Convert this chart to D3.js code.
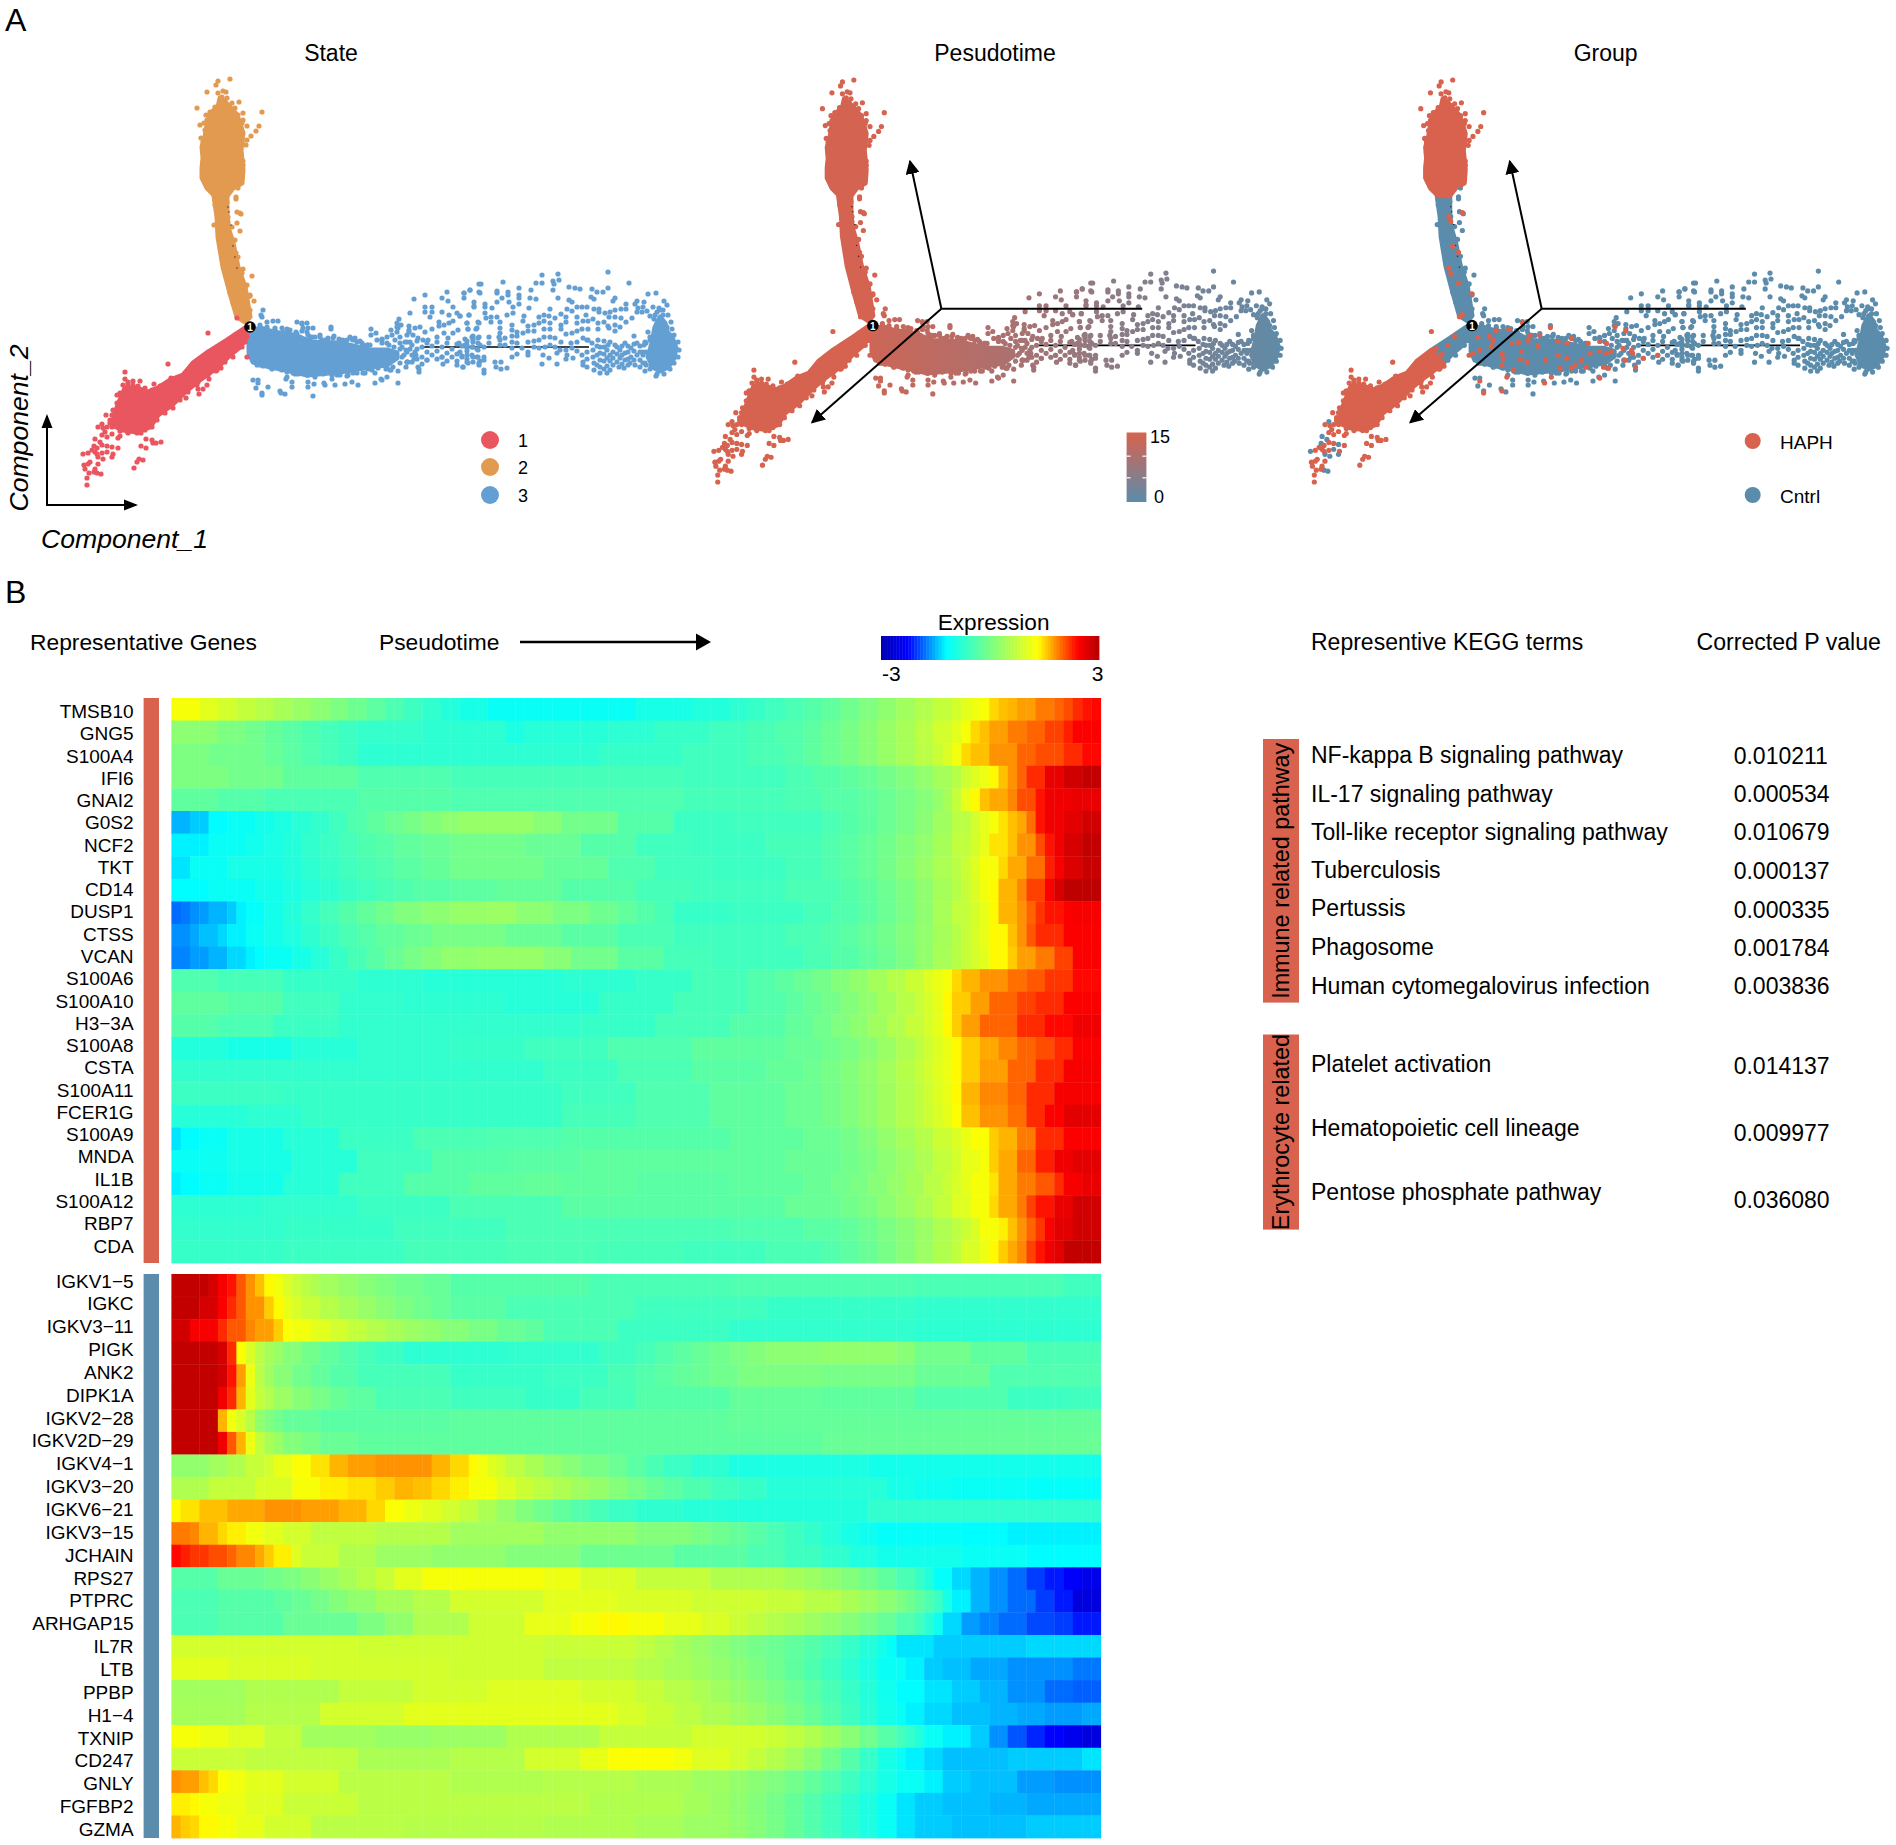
<!DOCTYPE html>
<html>
<head>
<meta charset="utf-8">
<title>Pseudotime trajectory and heatmap</title>
<script src="https://cdn.jsdelivr.net/npm/d3@7"></script>
<style>
  body { margin: 0; background: #fff; }
  text { font-family: "Liberation Sans", Arial, sans-serif; fill: #000; }
</style>
</head>
<body>
<svg id="chart"></svg>
<script>
// DATA

// trajectory: dense areas as outlines, loose cells as points, [component_1, component_2]
var state1Core = [[138,122],[125,112],[115,105],[103,95],[90,82],[76,72],[68,60],[55,55],[41,57],[30,62],[33,74],[38,87],[43,99],[55,99],[66,95],[76,99],[88,107],[101,112],[111,124],[126,135]];
var state1Near = [[126,135],[145,147],[163,159],[165,150],[158,140],[148,132],[138,122]];
var state2Core = [[138,389],[146,382],[155,372],[161,354],[159,337],[161,317],[160,304],[151,299],[145,291],[133,291],[125,299],[120,309],[120,319],[121,329],[120,340],[123,350],[125,362],[130,375],[136,380]];
var state2Stem = [[145,291],[145,274],[146,260],[151,244],[156,220],[163,200],[168,170],[163,165],[155,170],[148,194],[141,220],[136,250],[135,270],[132,291]];
var state3Band = [[167,155],[178,159],[191,155],[211,152],[231,145],[258,144],[288,137],[305,137],[315,134],[315,129],[305,122],[288,120],[258,115],[225,112],[205,117],[188,120],[171,125],[167,134]];
var state3Blob = [[578,170],[583,164],[585,155],[590,150],[594,139],[592,129],[586,120],[578,116],[571,120],[566,130],[570,144],[573,160]];

var state1Haph = [[43,115],[43,108],[51,106],[58,106],[46,103],[35,92],[72,103],[86,123],[126,154],[89,109],[93,108],[104,89],[117,93],[121,98],[125,102],[127,108],[115,102],[116,98],[134,116],[139,119],[165,130],[155,169],
  [24,72],[30,72],[16,60],[25,60],[28,64],[21,59],[23,55],[20,52],[25,50],[30,53],[38,51],[36,49],[46,54],[59,54],[64,48],[70,47],[74,44],[79,45],[71,44],[59,41],[64,39],[20,42],[15,39],[25,41],[36,39],[10,37],[13,35],[6,34],[15,33],[20,34],[31,33],[16,23],[8,25],[6,23],[2,22],[3,18],[7,14],[12,15],[13,18],[5,9],[5,2],[52,19],[55,25],[57,28],[61,27],
  [41,102],[46,105],[51,102],[56,101],[63,99],[70,97],[78,101],[83,102],[88,105],[98,109],[103,114],[108,117],[113,122],[120,127],[128,135],[38,94],[35,84],[31,77],[28,67],[30,60],[38,56],[46,55],[55,54],[63,57],[70,60],[75,67],[83,74],[91,79],[98,87],[106,95],[116,105],[126,112],[135,117],
  [150,149],[143,140],[137,131],[131,137]];
var state1Cntrl = [[20,63],[13,48],[18,45],[16,30],[30,40],[1,33],[21,28],[15,14],[19,13],[25,35],[30,30],[12,41],
  [136,140],[145,145],[153,152],[158,154],[143,125],[151,130],[160,140],[163,145]];

var state2Haph = [[148,408],[136,406],[134,402],[125,395],[141,396],[136,394],[144,395],[115,379],[157,385],[124,372],[127,368],[122,364],[118,362],[180,375],[177,361],[174,356],[165,361],[169,351],[165,347],[164,342],[161,374],[161,367],[119,349],[161,326],[121,317],
  [128,375],[133,380],[138,384],[143,385],[140,390],[145,389],[150,384],[153,379],[156,372],[160,364],[156,355],[160,345],[158,334],[161,322],[160,310],[156,302],[125,367],[123,357],[121,345],[121,335],[123,327],[121,319],[121,309],[125,302],[128,297],[133,294],
  [144,270],[146,265],[158,274],[154,234],[148,240],[144,218],[146,212],[154,203],[168,192],[158,171]];
var state2Cntrl = [[156,299],[154,290],[154,288],[155,275],[159,273],[132,262],[155,264],[158,256],[138,252],[170,211],[165,202],[168,191],[172,186],[161,218],
  [133,287],[133,282],[136,274],[136,262],[140,244],[141,230],[143,217],[146,204],[148,194],[151,184],[145,285],[146,270],[150,260],[153,247],[156,230],[160,214],[163,200],[166,190],[168,177]];

var state3Cntrl = [[181,177],[179,172],[180,170],[185,165],[191,166],[196,166],[215,165],[220,164],[225,164],[249,160],[226,159],[231,159],[200,159],[205,158],[193,157],[220,156],[225,155],[214,155],[238,152],[252,151],[257,148],[268,150],[273,149],[278,146],[245,147],[289,158],[294,154],[289,152],[285,142],[300,148],[305,150],[309,157],[315,160],[317,168],[315,164],[319,162],[327,161],[328,174],[332,188],[343,192],[343,180],[343,175],[350,180],[350,175],[348,170],[360,189],[365,195],[366,186],[371,180],[360,175],[367,172],[375,174],[378,171],[387,172],[382,194],[382,189],[388,197],[397,195],[397,203],[392,185],[392,180],[357,165],[362,162],[367,164],[371,166],[357,161],[385,164],[386,158],[395,159],[397,164],[327,157],[333,159],[338,160],[331,152],[336,149],[343,155],[350,158],[341,147],[346,147],[355,150],[362,154],[371,154],[376,157],[366,149],[377,144],[390,150],[391,145],[396,149],[385,142],
  [171,107],[176,107],[174,99],[180,94],[186,100],[198,96],[203,93],[231,91],[210,105],[210,100],[205,110],[226,112],[226,105],[232,103],[226,100],[242,104],[253,102],[263,103],[270,105],[265,111],[276,102],[293,104],[299,108],[305,110],[316,104],[293,114],[308,117],[316,116],[324,120],[336,120],[337,115],[361,123],[375,122],[381,120],[386,124],[391,125],[397,122],
  [178,122],[190,119],[200,117],[213,113],[233,112],[243,114],[255,112],[271,114],[283,114],[205,153],[218,150],[230,150],[243,147],[261,147],[280,144],
  [178,162],[185,160],[193,159],[201,155],[208,157],[215,153],[221,159],[226,152],[233,150],[240,147],[246,149],[251,149],[258,147],[265,147],[270,148],[275,145],[281,142],[286,142],[295,147],[300,147],[305,144],[310,152],[315,155],[313,147],[318,150],[318,144],[325,152],[323,145],[328,145],
  [175,122],[181,121],[190,118],[198,118],[205,115],[211,114],[216,113],[225,112],[233,110],[241,113],[250,112],[258,112],[266,112],[275,114],[281,114],[290,117],[296,119],[305,119],[311,120],[318,124],[325,125],
  [300,128],[308,126],[312,140],[318,138],[322,132],[328,138],[332,128],
  [320,140],[320,130],[325,145],[325,135],[325,125],[330,142],[330,132],[330,125],[335,146],[335,138],[335,128],[340,140],[340,130],[340,123],[345,144],[345,135],[345,127],[350,141],[350,132],[355,145],[355,136],[355,128],[360,140],[360,130],[365,144],[365,134],[365,126],[370,138],[370,130],[375,143],[375,133],[375,126],[380,141],[380,131],[385,146],[385,136],[385,128],[390,140],[390,132],[395,138],[395,130],[398,142],[398,126],
  [460,212],[476,213],[526,215],[454,204],[460,204],[471,206],[477,207],[472,203],[399,203],[421,205],[547,204],[388,197],[382,194],[398,194],[415,196],[415,194],[426,195],[426,192],[437,199],[437,192],[437,189],[449,197],[471,197],[487,200],[493,199],[498,198],[510,198],[515,195],[521,195],[526,199],[566,193],[574,194],[420,189],[415,185],[427,185],[437,183],[448,189],[454,188],[476,189],[509,190],[512,188],[533,189],[531,186],[487,187],[490,185],[582,186],[585,182],[555,186],[562,185],[553,183],[392,181],[403,183],[403,180],[410,179],[431,180],[447,179],[468,178],[485,178],[490,176],[495,180],[500,180],[505,180],[512,178],[517,178],[517,175],[544,183],[539,178],[544,178],[533,177],[528,175],[523,174],[556,179],[561,180],[560,175],[565,176],[571,180],[577,179],[581,177],
  [403,174],[431,174],[425,172],[442,171],[387,172],[378,171],[404,169],[409,170],[415,170],[418,165],[462,172],[467,171],[473,169],[479,173],[484,170],[484,165],[495,170],[504,172],[501,166],[506,166],[511,168],[516,164],[522,165],[527,170],[533,170],[539,169],[544,165],[550,169],[555,175],[568,171],[573,172],[385,164],[396,165],[409,165],[441,166],[457,170],[457,164],[462,166],[468,164],[495,164],[526,161],[533,162],[538,160],
  [386,158],[394,158],[418,159],[430,162],[430,157],[446,161],[452,162],[446,156],[452,156],[462,158],[468,158],[479,162],[479,158],[495,156],[500,158],[506,158],[516,158],[527,159],[533,156],[441,154],[435,155],[418,154],[430,151],[435,151],[417,150],[407,150],[397,150],[391,151],[484,153],[490,154],[446,145],[452,146],[457,147],[462,150],[468,150],[473,149],[479,145],[489,144],[495,145],[501,149],[506,147],[516,147],[522,146],[552,151],[568,150],
  [383,148],[383,142],[391,147],[391,140],[385,139],[396,144],[396,137],[407,144],[402,140],[418,147],[418,142],[423,149],[423,142],[430,145],[430,139],[435,144],[440,139],[446,135],[452,140],[457,139],[463,140],[468,142],[473,140],[478,137],[484,137],[490,139],[495,136],[500,132],[378,135],[380,130],[385,132],[391,130],[385,125],[396,130],[402,130],[402,127],[397,124],[381,120],[402,117],[402,114],[413,125],[419,125],[414,120],[419,118],[425,119],[430,130],[435,133],[446,132],[460,123],[461,132],[467,129],[475,123],[475,134],[484,128],[491,129],[485,132],
  [501,122],[501,125],[505,128],[505,147],[510,144],[511,137],[511,130],[512,124],[512,117],[518,114],[518,120],[518,127],[518,134],[518,140],[525,114],[525,121],[525,129],[525,137],[526,142],[531,122],[531,129],[531,135],[533,142],[537,120],[538,129],[538,137],[542,119],[543,127],[543,134],[543,144],[548,124],[549,130],[549,139],[553,122],[555,132],[555,144],[563,116],[561,124],[561,132],[562,142],[568,147],[569,122],[567,130],[574,111],[578,177],[581,172],
  [505,135],[505,120],[515,122],[515,132],[515,141],[522,118],[522,126],[522,133],[522,140],[528,117],[528,126],[528,132],[528,145],[535,125],[535,133],[535,140],[540,123],[540,132],[540,141],[546,122],[546,128],[546,135],[546,141],[552,127],[552,136],[552,143],[558,120],[558,127],[558,135],[558,141],[564,122],[564,135],[564,144],
  [575,175],[572,168],[586,172],[589,165],[585,160],[590,158],[592,152],[596,145],[597,137],[596,130],[592,124],[588,118],[582,113],[575,113],[568,118],[563,124],[561,135],[563,145],[566,155]];

var state3Haph = [[249,158],[220,163],[206,156],[193,155],[174,148],[186,149],[190,145],[176,135],[169,132],[188,139],[199,132],[200,127],[209,142],[216,143],[219,134],[226,145],[228,150],[238,150],[236,139],[257,144],[271,147],[266,142],[288,142],[300,144],[307,142],[300,134],[307,132],[312,134],[316,159],[327,155],[324,137],[333,135],[334,132],[360,130],[345,127],[326,125],[337,118],[309,117],[304,118],[290,132],[286,118],[281,125],[275,120],[271,117],[266,127],[257,130],[259,117],[244,125],[225,123],[218,126],[211,115],[199,120],[204,108],[250,108],[243,102],[300,107],[176,104],[199,94],[180,92]];

// pseudotime read along component_1 on the third branch
var ptAtComponent = [168, 300, 400, 500, 600];
var ptValues = [13.5, 10, 6.8, 3.5, 0.5];
var ptOnBranch = { 1: 14.8, 2: 14.5 };

// arrows in the Pesudotime and Group panels
var arrowHub = [240, 177];
var arrowEnds = [[207, 326], [104, 62]];
var arrowLineEnd = [451, 177];

var nodePoint = [168, 160];
var trajectoryLine = [[341, 140], [507, 140]];
var trajectoryDots = [[146, 280], [147, 275], [149, 262], [151, 241], [153, 230], [155, 219]];

var stateLabels = ["1", "2", "3"];
var stateColors = ["#e9565f", "#e29a50", "#649fd3"];
var groupLabels = ["HAPH", "Cntrl"];
var groupColors = ["#d8624e", "#5b8cab"];
var ptTicks = [5, 10];

// heatmap, runs of [end column, expression]
var genesUp = ["TMSB10","GNG5","S100A4","IFI6","GNAI2","G0S2","NCF2","TKT","CD14","DUSP1","CTSS","VCAN","S100A6","S100A10","H3\u22123A","S100A8","CSTA","S100A11","FCER1G","S100A9","MNDA","IL1B","S100A12","RBP7","CDA"];
var genesDown = ["IGKV1\u22125","IGKC","IGKV3\u221211","PIGK","ANK2","DIPK1A","IGKV2\u221228","IGKV2D\u221229","IGKV4\u22121","IGKV3\u221220","IGKV6\u221221","IGKV3\u221215","JCHAIN","RPS27","PTPRC","ARHGAP15","IL7R","LTB","PPBP","H1\u22124","TXNIP","CD247","GNLY","FGFBP2","GZMA"];

var exprUp = [
 "3:1.2 5:1.0 7:0.85 9:0.7 11:0.58 13:0.42 15:0.28 17:0.14 19:0 21:-0.15 23:-0.32 25:-0.48 27:-0.62 29:-0.76 31:-0.88 34:-1.0 50:-1.15 56:-1.0 60:-0.9 62:-0.8 64:-0.7 66:-0.6 68:-0.5 70:-0.4 72:-0.28 74:-0.12 76:0.02 78:0.18 80:0.35 82:0.52 84:0.7 85:0.85 86:1.0 87:1.12 88:1.22 89:1.45 90:1.55 91:1.6 93:1.7 95:1.85 96:1.95 97:2.05 98:2.2 99:2.3 100:2.35",
 "5:0.15 8:0 10:-0.12 12:-0.24 14:-0.36 16:-0.46 18:-0.56 20:-0.64 27:-0.72 36:-0.8 38:-0.95 47:-0.85 52:-0.8 58:-0.7 62:-0.6 65:-0.52 68:-0.42 70:-0.32 72:-0.18 74:-0.04 76:0.1 78:0.26 80:0.42 82:0.62 84:0.84 85:1.0 86:1.2 87:1.45 88:1.55 90:1.7 92:1.85 94:1.95 96:2.1 97:2.25 100:2.4",
 "4:0 10:-0.1 12:-0.22 14:-0.34 16:-0.44 18:-0.54 20:-0.64 46:-0.8 55:-0.7 62:-0.6 66:-0.5 68:-0.42 70:-0.3 72:-0.18 74:-0.04 76:0.1 78:0.26 80:0.42 82:0.6 83:0.75 84:0.9 85:1.15 86:1.45 88:1.55 91:1.75 93:1.95 96:2.05 98:2.2 100:2.35",
 "6:0 12:-0.1 20:-0.3 30:-0.45 55:-0.55 66:-0.6 69:-0.5 72:-0.4 74:-0.3 76:-0.2 78:-0.08 80:0.04 82:0.2 84:0.4 85:0.56 86:0.8 87:0.96 88:1.1 89:1.3 90:1.55 91:1.75 92:1.95 94:2.2 96:2.55 98:2.75 100:2.85",
 "5:-0.3 10:-0.4 20:-0.5 30:-0.4 55:-0.45 66:-0.55 70:-0.48 74:-0.38 76:-0.28 78:-0.18 80:-0.05 82:0.08 83:0.22 84:0.4 85:0.7 86:1.05 87:1.3 88:1.55 90:1.65 91:1.8 93:2.05 94:2.3 97:2.5 100:2.55",
 "2:-1.55 4:-1.45 6:-1.25 9:-1.15 11:-1.05 13:-0.96 15:-0.84 17:-0.74 19:-0.6 21:-0.44 23:-0.3 25:-0.18 27:-0.06 29:0.06 31:0.16 39:0.25 42:0.1 48:-0.1 54:-0.4 60:-0.65 70:-0.6 72:-0.5 74:-0.4 76:-0.3 78:-0.18 80:-0.04 82:0.12 84:0.34 86:0.6 87:0.84 88:1.02 89:1.2 90:1.4 91:1.55 92:1.65 93:1.9 94:2.3 96:2.5 98:2.6 100:2.75",
 "4:-1.3 8:-1.15 10:-1.06 12:-0.98 14:-0.88 16:-0.76 18:-0.66 20:-0.56 22:-0.46 24:-0.38 27:-0.28 30:-0.2 38:-0.1 44:-0.2 50:-0.4 56:-0.6 64:-0.65 70:-0.55 72:-0.44 74:-0.34 76:-0.22 78:-0.1 80:0.04 82:0.2 84:0.4 86:0.66 87:0.86 88:1.05 90:1.4 91:1.55 93:1.75 94:2.05 95:2.3 96:2.5 98:2.7 100:2.85",
 "2:-1.35 6:-1.15 12:-1 14:-0.9 16:-0.8 18:-0.7 20:-0.6 22:-0.52 24:-0.44 27:-0.34 30:-0.24 40:-0.1 47:-0.25 52:-0.45 58:-0.6 66:-0.65 70:-0.55 72:-0.44 74:-0.34 76:-0.22 78:-0.08 80:0.08 82:0.26 84:0.46 85:0.6 86:0.76 87:0.95 89:1.2 90:1.45 92:1.65 94:1.9 95:2.25 96:2.45 98:2.65 100:2.8",
 "4:-1.25 9:-1.15 12:-1.04 14:-0.96 16:-0.86 18:-0.78 20:-0.68 22:-0.6 24:-0.52 26:-0.46 30:-0.38 35:-0.32 42:-0.25 50:-0.4 56:-0.55 66:-0.6 72:-0.5 74:-0.4 76:-0.3 78:-0.16 80:0 82:0.18 84:0.4 85:0.56 86:0.72 87:0.9 88:1.15 89:1.3 91:1.6 92:1.8 94:2.1 95:2.4 96:2.7 100:2.9",
 "1:-1.85 2:-1.8 3:-1.7 4:-1.65 6:-1.55 7:-1.45 8:-1.3 10:-1.2 12:-1.04 14:-0.88 16:-0.72 18:-0.56 20:-0.4 22:-0.26 24:-0.12 27:0.04 30:0.15 34:0.25 37:0.3 41:0.15 45:0 48:-0.14 50:-0.28 52:-0.4 54:-0.52 60:-0.7 68:-0.65 71:-0.54 74:-0.44 76:-0.32 78:-0.18 80:-0.02 82:0.18 84:0.42 86:0.68 87:0.86 88:1.05 89:1.3 91:1.6 92:1.75 93:1.95 94:2.15 96:2.3 97:2.4 100:2.45",
 "2:-1.7 3:-1.6 5:-1.5 6:-1.4 8:-1.3 10:-1.15 12:-1.04 14:-0.92 16:-0.78 18:-0.64 20:-0.5 22:-0.4 25:-0.28 28:-0.18 36:-0.05 42:-0.2 48:-0.35 54:-0.5 66:-0.6 70:-0.5 72:-0.42 74:-0.34 76:-0.22 78:-0.1 80:0.04 82:0.2 84:0.4 85:0.56 86:0.72 87:0.88 88:1.05 90:1.3 91:1.55 92:1.75 93:2.0 96:2.2 100:2.4",
 "2:-1.75 4:-1.65 6:-1.55 8:-1.4 9:-1.3 10:-1.25 13:-1.15 15:-1.0 17:-0.86 19:-0.7 21:-0.52 23:-0.36 25:-0.2 27:-0.06 29:0.06 33:0.2 40:0.25 43:0.1 48:-0.1 53:-0.35 58:-0.55 68:-0.6 71:-0.5 74:-0.4 76:-0.28 78:-0.16 80:0 82:0.2 84:0.42 85:0.56 86:0.72 87:0.86 88:1.0 90:1.3 91:1.5 93:1.7 95:1.85 97:2.1 100:2.4",
 "5:-0.45 12:-0.55 20:-0.7 27:-0.8 42:-0.85 50:-0.8 56:-0.7 62:-0.55 65:-0.42 67:-0.32 69:-0.2 71:-0.08 73:0.06 75:0.2 77:0.38 79:0.56 81:0.76 82:0.95 83:1.08 84:1.2 85:1.45 87:1.6 90:1.75 92:1.9 94:2.0 97:2.15 100:2.35",
 "6:-0.3 12:-0.4 18:-0.6 25:-0.75 36:-0.8 46:-0.85 54:-0.7 62:-0.55 66:-0.42 68:-0.32 70:-0.2 72:-0.08 74:0.06 76:0.2 78:0.38 80:0.58 81:0.74 82:0.88 83:1.04 84:1.3 86:1.5 88:1.7 91:1.95 93:2.1 96:2.2 100:2.4",
 "5:-0.4 11:-0.5 18:-0.65 30:-0.75 44:-0.75 52:-0.7 60:-0.55 66:-0.4 69:-0.26 71:-0.12 73:0.02 75:0.16 77:0.34 79:0.52 81:0.72 82:0.88 83:1.02 84:1.3 85:1.5 87:1.7 91:1.95 94:2.2 97:2.35 100:2.5",
 "6:-0.9 13:-1.0 20:-0.85 30:-0.75 38:-0.7 47:-0.6 56:-0.45 66:-0.3 70:-0.2 72:-0.12 74:-0.02 76:0.12 78:0.28 80:0.48 81:0.64 82:0.8 83:0.94 84:1.08 85:1.3 87:1.5 89:1.65 91:1.8 93:1.95 95:2.05 97:2.2 100:2.4",
 "10:-0.75 20:-0.75 40:-0.75 48:-0.65 56:-0.5 64:-0.35 68:-0.24 70:-0.16 72:-0.06 74:0.06 76:0.2 78:0.36 80:0.56 81:0.7 82:0.84 83:0.98 84:1.1 85:1.3 87:1.5 90:1.7 93:1.95 96:2.2 100:2.45",
 "12:-0.65 24:-0.7 42:-0.7 50:-0.6 58:-0.45 66:-0.3 70:-0.18 72:-0.08 74:0.04 76:0.18 78:0.34 80:0.52 81:0.66 82:0.8 83:0.94 84:1.06 85:1.3 87:1.6 90:1.8 92:1.95 95:2.2 100:2.45",
 "8:-0.85 14:-0.8 25:-0.7 42:-0.7 50:-0.55 58:-0.45 66:-0.3 70:-0.18 72:-0.08 74:0.04 76:0.18 78:0.34 80:0.52 81:0.66 82:0.78 83:0.9 84:1.02 85:1.25 87:1.55 90:1.75 92:1.9 94:2.2 96:2.4 100:2.6",
 "1:-1.35 3:-1.25 6:-1.15 12:-1 18:-0.85 26:-0.65 34:-0.5 42:-0.45 52:-0.4 60:-0.4 68:-0.3 72:-0.18 74:-0.08 76:0.06 78:0.22 80:0.38 82:0.56 84:0.78 85:0.92 86:1.08 88:1.25 89:1.5 91:1.6 93:1.85 96:2.2 100:2.4",
 "3:-1.15 6:-1.1 13:-1 20:-0.85 28:-0.6 36:-0.4 44:-0.35 56:-0.3 66:-0.3 72:-0.2 74:-0.1 76:0 78:0.14 80:0.3 82:0.48 84:0.7 85:0.85 87:1.05 88:1.2 89:1.5 91:1.65 93:1.95 95:2.25 97:2.5 100:2.6",
 "1:-1.3 3:-1.25 6:-1.15 12:-1.05 18:-0.85 25:-0.6 32:-0.4 38:-0.3 42:-0.25 50:-0.3 60:-0.35 68:-0.3 71:-0.2 73:-0.12 75:-0.02 77:0.1 79:0.24 81:0.4 83:0.6 84:0.74 85:0.88 86:1.02 88:1.2 89:1.4 91:1.65 93:1.85 95:2.0 96:2.2 98:2.45 100:2.55",
 "10:-0.8 20:-0.75 30:-0.65 42:-0.5 56:-0.35 66:-0.35 72:-0.2 74:-0.1 76:0 78:0.14 80:0.3 82:0.48 84:0.7 86:0.95 88:1.2 89:1.45 91:1.65 92:1.85 93:2.1 95:2.3 97:2.55 100:2.75",
 "12:-0.75 24:-0.7 36:-0.6 50:-0.5 60:-0.5 68:-0.45 72:-0.34 74:-0.26 76:-0.14 78:-0.02 80:0.12 82:0.28 84:0.48 85:0.62 86:0.76 87:0.9 89:1.2 90:1.35 91:1.55 92:1.75 93:1.95 94:2.15 95:2.4 97:2.6 100:2.75",
 "12:-0.7 25:-0.65 36:-0.55 46:-0.5 55:-0.55 64:-0.6 70:-0.5 72:-0.42 74:-0.32 76:-0.2 78:-0.06 80:0.1 82:0.3 84:0.5 85:0.65 87:0.9 88:1.1 89:1.3 90:1.5 91:1.65 92:1.8 93:2.1 94:2.3 95:2.5 96:2.6 100:2.85"
];

var exprDown = [
 "4:2.85 5:2.7 6:2.45 7:2.3 8:2 9:1.75 10:1.55 11:1.3 12:1.15 13:0.9 14:0.75 15:0.6 16:0.48 18:0.36 20:0.22 22:0.1 24:0 27:-0.12 30:-0.22 45:-0.4 60:-0.5 80:-0.45 96:-0.5 100:-0.6",
 "3:2.85 5:2.7 6:2.4 7:2.2 8:2 10:1.75 11:1.5 12:1.3 13:1.05 14:0.9 16:0.74 18:0.56 20:0.4 22:0.26 24:0.12 26:0 28:-0.12 30:-0.22 36:-0.35 50:-0.5 64:-0.6 80:-0.7 100:-0.75",
 "2:2.75 5:2.45 6:2.2 8:2 9:1.8 11:1.7 12:1.5 13:1.25 15:1.15 17:1 19:0.84 21:0.68 23:0.54 25:0.42 27:0.3 29:0.2 32:0.08 35:-0.04 38:-0.2 40:-0.3 48:-0.5 60:-0.65 80:-0.75 100:-0.8",
 "5:2.85 6:2.7 7:2.2 8:1.25 9:0.9 10:0.6 11:0.4 12:0.26 14:0.08 16:-0.1 18:-0.28 20:-0.42 22:-0.54 25:-0.65 36:-0.8 46:-0.75 50:-0.64 52:-0.54 54:-0.42 56:-0.32 58:-0.22 60:-0.12 62:-0.02 64:0.06 70:0.15 78:0.2 80:0.1 86:-0.1 92:-0.3 100:-0.5",
 "5:2.85 6:2.75 7:2.3 8:1.7 9:1.1 10:0.6 11:0.34 13:0.1 15:-0.1 17:-0.26 20:-0.4 30:-0.55 40:-0.7 47:-0.65 50:-0.52 52:-0.42 54:-0.34 56:-0.26 58:-0.2 61:-0.12 70:0 80:-0.05 88:-0.2 100:-0.45",
 "5:2.85 6:2.5 7:2.2 8:1.6 9:1.0 10:0.7 11:0.52 13:0.3 15:0.1 17:-0.06 19:-0.2 22:-0.32 30:-0.5 38:-0.6 44:-0.7 50:-0.55 60:-0.4 70:-0.25 80:-0.3 90:-0.45 96:-0.65 100:-0.6",
 "5:2.85 6:1.6 7:1.15 8:0.9 9:0.6 10:0.2 11:0.02 12:-0.1 16:-0.25 30:-0.35 60:-0.3 80:-0.25 100:-0.25",
 "5:2.85 6:2.5 7:2.0 8:1.6 9:1.1 10:0.7 11:0.44 12:0.26 14:0.06 16:-0.06 20:-0.2 40:-0.3 70:-0.3 100:-0.2",
 "4:0.2 6:0.36 8:0.5 10:0.72 11:0.84 13:1.05 15:1.25 17:1.4 19:1.6 22:1.7 28:1.75 30:1.6 32:1.45 33:1.3 34:1.15 35:0.98 36:0.85 38:0.64 40:0.44 42:0.24 44:0.1 47:-0.04 49:-0.18 51:-0.34 53:-0.5 56:-0.66 60:-0.8 75:-0.95 90:-1.05 100:-1.05",
 "4:0.5 9:0.7 13:0.9 16:1.2 19:1.35 22:1.4 24:1.5 26:1.6 28:1.55 30:1.45 32:1.35 35:1.2 37:0.95 39:0.78 41:0.62 43:0.48 45:0.34 47:0.22 49:0.08 51:-0.06 53:-0.2 55:-0.32 58:-0.46 61:-0.6 64:-0.7 77:-0.85 80:-1.0 84:-1.1 92:-1.15 100:-1.2",
 "1:1.3 3:1.4 6:1.55 10:1.65 14:1.75 18:1.7 21:1.6 23:1.45 25:1.25 27:1.1 29:0.98 31:0.84 33:0.68 35:0.46 37:0.24 39:0.04 41:-0.12 43:-0.28 45:-0.42 47:-0.54 50:-0.66 55:-0.78 60:-0.85 75:-0.9 100:-0.75",
 "2:1.85 3:1.8 5:1.6 6:1.45 8:1.35 10:1.15 12:1.0 15:0.85 22:0.65 30:0.55 40:0.35 50:0.2 56:0.05 58:-0.04 60:-0.14 62:-0.24 64:-0.36 66:-0.5 68:-0.62 70:-0.74 72:-0.86 74:-1.0 76:-1.1 85:-1.2 90:-1.25 100:-1.3",
 "1:2.35 2:2.25 4:2.15 6:2.05 7:1.95 9:1.8 10:1.65 11:1.5 13:1.35 14:0.95 18:0.75 22:0.5 28:0.3 36:0.2 44:0.05 54:-0.15 62:-0.35 66:-0.48 70:-0.62 73:-0.76 76:-0.92 85:-1.05 92:-1.15 100:-1.25",
 "5:-0.4 10:-0.2 12:-0.1 14:0 16:0.12 18:0.26 20:0.42 22:0.58 24:0.74 27:1.0 40:1.2 44:1.1 50:0.9 58:0.7 66:0.5 68:0.4 70:0.3 72:0.18 74:0.04 76:-0.1 78:-0.3 80:-0.5 81:-0.7 82:-0.9 84:-1.2 86:-1.4 88:-1.55 90:-1.7 92:-1.85 94:-2.05 96:-2.2 98:-2.35 100:-2.5",
 "5:-0.5 11:-0.4 13:-0.3 15:-0.2 17:-0.08 19:0.06 22:0.2 26:0.4 30:0.55 40:0.85 48:1.0 56:0.9 64:0.8 68:0.72 72:0.58 74:0.44 76:0.3 78:0.14 79:0 80:-0.14 81:-0.3 82:-0.46 83:-0.66 84:-1.0 86:-1.3 88:-1.55 90:-1.7 93:-1.85 95:-2.05 97:-2.2 100:-2.6",
 "5:-0.5 12:-0.4 20:-0.2 23:0 26:0.2 32:0.5 38:0.8 43:1.05 46:1.2 49:1.3 53:1.2 57:1.05 60:0.9 62:0.78 64:0.66 66:0.54 68:0.44 70:0.32 72:0.2 74:0.08 76:-0.06 78:-0.22 80:-0.44 81:-0.6 82:-0.84 83:-1.1 85:-1.4 87:-1.65 89:-1.75 92:-1.85 95:-2.0 97:-2.05 100:-2.2",
 "10:0.85 20:0.85 30:0.8 40:0.8 50:0.75 52:0.64 54:0.52 56:0.38 58:0.26 60:0.14 62:0.02 64:-0.08 66:-0.18 68:-0.28 70:-0.4 72:-0.54 74:-0.7 76:-0.88 77:-1.04 78:-1.2 82:-1.35 87:-1.45 92:-1.45 100:-1.4",
 "6:1.0 15:0.9 30:0.85 40:0.8 50:0.65 53:0.54 56:0.42 58:0.32 60:0.22 62:0.12 64:0 66:-0.14 68:-0.3 70:-0.46 72:-0.62 74:-0.8 76:-0.96 79:-1.15 81:-1.3 83:-1.45 86:-1.5 90:-1.6 93:-1.7 97:-1.7 100:-1.8",
 "8:0.35 18:0.5 26:0.7 34:0.85 44:0.95 50:0.85 53:0.72 56:0.58 58:0.46 60:0.34 62:0.22 64:0.1 66:-0.02 68:-0.18 70:-0.34 72:-0.52 74:-0.7 76:-0.88 78:-1.08 81:-1.25 84:-1.35 87:-1.45 90:-1.55 94:-1.7 97:-1.85 100:-1.9",
 "8:0.4 16:0.55 25:0.85 34:1.0 48:1.0 51:0.88 54:0.76 57:0.62 60:0.48 62:0.36 64:0.24 66:0.1 68:-0.06 70:-0.22 72:-0.42 74:-0.62 76:-0.84 78:-1.04 79:-1.15 81:-1.3 84:-1.4 88:-1.5 91:-1.55 94:-1.6 98:-1.65 100:-1.6",
 "3:1.2 6:1.1 10:0.95 14:0.7 22:0.35 28:0.25 36:0.3 46:0.5 56:0.7 64:0.85 66:0.76 68:0.64 70:0.5 72:0.32 74:0.12 76:-0.12 78:-0.38 79:-0.56 80:-0.72 81:-0.9 83:-1.15 86:-1.3 88:-1.45 90:-1.7 92:-1.95 94:-2.15 96:-2.3 98:-2.45 100:-2.6",
 "8:0.75 20:0.65 30:0.45 38:0.55 44:0.85 47:1.05 54:1.25 56:1.15 60:0.95 62:0.84 64:0.7 66:0.54 68:0.36 70:0.14 72:-0.12 74:-0.4 76:-0.7 78:-1.0 79:-1.15 81:-1.3 83:-1.4 90:-1.5 98:-1.45 100:-1.35",
 "1:1.75 3:1.7 4:1.55 5:1.45 6:1.25 8:1.15 12:1.0 18:0.85 30:0.6 40:0.5 50:0.55 56:0.45 60:0.32 62:0.22 64:0.12 66:0.02 68:-0.1 70:-0.26 72:-0.44 74:-0.62 76:-0.82 78:-1.0 81:-1.15 83:-1.3 86:-1.45 91:-1.5 95:-1.65 100:-1.7",
 "2:1.35 3:1.3 5:1.2 8:1.1 12:0.95 20:0.75 30:0.6 45:0.6 55:0.5 58:0.38 60:0.28 62:0.18 64:0.06 66:-0.08 68:-0.24 70:-0.42 72:-0.6 74:-0.78 76:-0.96 78:-1.15 80:-1.35 83:-1.45 88:-1.5 92:-1.55 96:-1.6 100:-1.6",
 "1:1.6 2:1.5 3:1.45 5:1.3 7:1.2 10:1.05 15:0.85 25:0.6 40:0.55 50:0.5 55:0.42 60:0.3 62:0.2 64:0.08 66:-0.06 68:-0.24 70:-0.42 72:-0.6 74:-0.78 76:-0.96 78:-1.15 80:-1.35 84:-1.45 92:-1.5 100:-1.45"
];

// KEGG table
var keggImmune = ["NF-kappa B signaling pathway","IL-17 signaling pathway","Toll-like receptor signaling pathway","Tuberculosis","Pertussis","Phagosome","Human cytomegalovirus infection"];
var pImmune = ["0.010211","0.000534","0.010679","0.000137","0.000335","0.001784","0.003836"];
var keggErythro = ["Platelet activation","Hematopoietic cell lineage","Pentose phosphate pathway"];
var pErythro = ["0.014137","0.009977","0.036080"];

// CHART

var width = 1896;
var height = 1845;

var svg = d3.select("#chart")
    .attr("width", width)
    .attr("height", height)
    .attr("viewBox", "0 0 " + width + " " + height);

var defs = svg.append("defs");
defs.append("marker")
    .attr("id", "head")
    .attr("viewBox", "0 0 10 10")
    .attr("refX", 9).attr("refY", 5)
    .attr("markerWidth", 14).attr("markerHeight", 14)
    .attr("markerUnits", "userSpaceOnUse")
    .attr("orient", "auto")
  .append("path")
    .attr("d", "M0,0L10,5L0,10Z")
    .attr("fill", "#000");

function label(g, x, y, str, size, anchor, extra) {
    var t = g.append("text")
        .attr("x", x).attr("y", y)
        .attr("font-size", size)
        .attr("text-anchor", anchor || "start")
        .attr("dominant-baseline", "central")
        .text(str);
    if (extra) extra(t);
    return t;
}

// colour scales
var ptColor = d3.scaleLinear().domain([0, 15]).range([groupColors[1], groupColors[0]]);
var ptAlong = d3.scaleLinear().domain(ptAtComponent).range(ptValues).clamp(true);
var heatColor = d3.scaleLinear()
    .domain([-3, -2.3, -1.24, 1.28, 2.38, 3])
    .range(["#0000b4", "#0000ff", "#00ffff", "#ffff00", "#ff0000", "#b00000"]);

// TRAJECTORY PANELS

var areas = [
    { outline: state3Band, state: 3, group: 1 },
    { outline: state3Blob, state: 3, group: 1 },
    { outline: state2Stem, state: 2, group: 1 },
    { outline: state1Near, state: 1, group: 1 },
    { outline: state2Core, state: 2, group: 0 },
    { outline: state1Core, state: 1, group: 0 }
];
var clouds = [
    { pts: state3Cntrl, state: 3, group: 1 },
    { pts: state2Cntrl, state: 2, group: 1 },
    { pts: state1Cntrl, state: 1, group: 1 },
    { pts: state3Haph, state: 3, group: 0 },
    { pts: state2Haph, state: 2, group: 0 },
    { pts: state1Haph, state: 1, group: 0 }
];

var panels = [
    { title: "State", titleX: 331, xr: [82, 681], yr: [487, 77], mode: "state" },
    { title: "Pesudotime", titleX: 995, xr: [713, 1283], yr: [484, 78], mode: "pt" },
    { title: "Group", titleX: 1605.6, xr: [1309.5, 1889], yr: [484, 78], mode: "group" }
];

panels.forEach(function(p, i) {
    var g = svg.append("g");
    var x = d3.scaleLinear().domain([0, 599]).range(p.xr);
    var y = d3.scaleLinear().domain([0, 410]).range(p.yr);

    label(g, p.titleX, 53, p.title, 23, "middle");

    // gradient for the outline of the long branch
    var gradId = "ptBand" + i;
    var grad = defs.append("linearGradient")
        .attr("id", gradId)
        .attr("gradientUnits", "userSpaceOnUse")
        .attr("x1", x(ptAtComponent[0])).attr("x2", x(ptAtComponent[4]))
        .attr("y1", 0).attr("y2", 0);
    ptAtComponent.forEach(function(c, k) {
        grad.append("stop")
            .attr("offset", (c - ptAtComponent[0]) / (ptAtComponent[4] - ptAtComponent[0]))
            .attr("stop-color", ptColor(ptValues[k]));
    });

    function pointColor(cloud, d) {
        if (p.mode == "state") return stateColors[cloud.state - 1];
        if (p.mode == "group") return groupColors[cloud.group];
        if (cloud.state == 3) return ptColor(ptAlong(d[0]));
        return ptColor(ptOnBranch[cloud.state]);
    }
    function areaColor(a) {
        if (p.mode == "state") return stateColors[a.state - 1];
        if (p.mode == "group") return groupColors[a.group];
        if (a.state == 3) return "url(#" + gradId + ")";
        return ptColor(ptOnBranch[a.state]);
    }

    // tree line under the cells
    g.append("path")
        .attr("d", d3.line().x(function(d) { return x(d[0]); }).y(function(d) { return y(d[1]); })(trajectoryLine))
        .attr("stroke", "#000").attr("stroke-width", 1.6).attr("fill", "none");

    var outline = d3.line()
        .x(function(d) { return x(d[0]); })
        .y(function(d) { return y(d[1]); })
        .curve(d3.curveLinearClosed);

    g.selectAll(".area").data(areas).enter().append("path")
        .attr("d", function(a) { return outline(a.outline); })
        .attr("fill", areaColor)
        .attr("stroke", areaColor)
        .attr("stroke-width", 5)
        .attr("stroke-linejoin", "round");

    clouds.forEach(function(c) {
        g.append("g").selectAll("circle").data(c.pts).enter().append("circle")
            .attr("cx", function(d) { return x(d[0]); })
            .attr("cy", function(d) { return y(d[1]); })
            .attr("r", 2.6)
            .attr("fill", function(d) { return pointColor(c, d); });
    });

    g.selectAll(".dash").data(trajectoryDots).enter().append("circle")
        .attr("cx", function(d) { return x(d[0]); })
        .attr("cy", function(d) { return y(d[1]); })
        .attr("r", 0.7)
        .attr("fill", "#222");

    // arrows
    if (p.mode != "state") {
        g.append("line")
            .attr("x1", x(arrowHub[0])).attr("y1", y(arrowHub[1]))
            .attr("x2", x(arrowLineEnd[0])).attr("y2", y(arrowLineEnd[1]))
            .attr("stroke", "#000").attr("stroke-width", 2);
        arrowEnds.forEach(function(e) {
            g.append("line")
                .attr("x1", x(arrowHub[0])).attr("y1", y(arrowHub[1]))
                .attr("x2", x(e[0])).attr("y2", y(e[1]))
                .attr("stroke", "#000").attr("stroke-width", 2)
                .attr("marker-end", "url(#head)");
        });
    }

    // branch node
    g.append("circle")
        .attr("cx", x(nodePoint[0])).attr("cy", y(nodePoint[1]))
        .attr("r", 5.8).attr("fill", "#000");
    label(g, x(nodePoint[0]), y(nodePoint[1]) + 0.5, "1", 10, "middle", function(t) {
        t.style("fill", "#fff").attr("font-weight", "bold");
    });
});

// panel letter, component axes and legends
var extras = svg.append("g");
extras.append("text").attr("x", 5).attr("y", 31).attr("font-size", 32).text("A");
extras.append("text").attr("x", 5).attr("y", 603).attr("font-size", 32).text("B");

extras.append("path")
    .attr("d", "M47,416V505H136")
    .attr("fill", "none").attr("stroke", "#000").attr("stroke-width", 2);
extras.append("path").attr("d", "M47,414L41.5,428H52.5Z").attr("fill", "#000");
extras.append("path").attr("d", "M138,505L124,499.5V510.5Z").attr("fill", "#000");
label(extras, 41, 539, "Component_1", 26.6, "start").attr("font-style", "italic");
label(extras, 0, 0, "Component_2", 26.6, "middle")
    .attr("font-style", "italic")
    .attr("transform", "translate(19,428) rotate(-90)");

var stateLegendY = [440, 467, 495];
stateLabels.forEach(function(s, i) {
    extras.append("circle").attr("cx", 490).attr("cy", stateLegendY[i]).attr("r", 9).attr("fill", stateColors[i]);
    label(extras, 523, stateLegendY[i] + 1, s, 18, "middle");
});

var ptLegendY = d3.scaleLinear().domain([0, 15]).range([499.5, 434.5]);
var ptGrad = defs.append("linearGradient")
    .attr("id", "ptLegend")
    .attr("x1", 0).attr("x2", 0).attr("y1", 1).attr("y2", 0);
ptGrad.append("stop").attr("offset", 0).attr("stop-color", ptColor(0));
ptGrad.append("stop").attr("offset", 1).attr("stop-color", ptColor(15));
extras.append("rect")
    .attr("x", 1126.6).attr("y", 432.5).attr("width", 19.8).attr("height", 69.5)
    .attr("fill", "url(#ptLegend)");
ptTicks.forEach(function(t) {
    [[1126.6, 1130.6], [1142.4, 1146.4]].forEach(function(s) {
        extras.append("line")
            .attr("x1", s[0]).attr("x2", s[1])
            .attr("y1", ptLegendY(t)).attr("y2", ptLegendY(t))
            .attr("stroke", "#fff").attr("stroke-width", 1.2);
    });
});
label(extras, 1150, 437, "15", 18, "start");
label(extras, 1154, 497, "0", 18, "start");

var groupLegendY = [441, 495];
groupLabels.forEach(function(s, i) {
    extras.append("circle").attr("cx", 1752.7).attr("cy", groupLegendY[i]).attr("r", 8).attr("fill", groupColors[i]);
    label(extras, 1780, groupLegendY[i] + 1, s, 19, "start");
});

// HEATMAP

var hm = svg.append("g");
var colIndex = d3.range(100);
var colX = d3.scaleBand().domain(colIndex).range([171.4, 1100.7]);

function expandRuns(str) {
    var out = [], from = 0;
    str.split(" ").forEach(function(run) {
        var parts = run.split(":");
        var end = +parts[0];
        for (var c = from; c < end; c++) out.push({ col: c, value: +parts[1] });
        from = end;
    });
    return out;
}

function drawHeat(genes, rows, y0, y1, labelY0, labelY1, barColor) {
    var rowY = d3.scaleBand().domain(genes).range([y0, y1]);
    // gene labels sit on a slightly different pitch than the cells
    var labelY = d3.scalePoint().domain(genes).range([labelY0, labelY1]);

    hm.append("rect")
        .attr("x", 143.6).attr("y", y0)
        .attr("width", 15.4).attr("height", y1 - y0)
        .attr("fill", barColor);

    genes.forEach(function(gene, i) {
        label(hm, 133.6, labelY(gene), gene, 19, "end");
        hm.append("g").selectAll("rect").data(expandRuns(rows[i])).enter().append("rect")
            .attr("x", function(d) { return colX(d.col); })
            .attr("y", rowY(gene))
            .attr("width", colX.bandwidth() + 0.4)
            .attr("height", rowY.bandwidth() + 0.4)
            .attr("fill", function(d) { return heatColor(d.value); });
    });
}

drawHeat(genesUp, exprUp, 698, 1263, 711.5, 1246, groupColors[0]);
drawHeat(genesDown, exprDown, 1274, 1838, 1281, 1829.5, groupColors[1]);

label(hm, 30, 642, "Representative Genes", 22.8, "start");
label(hm, 379, 642, "Pseudotime", 22.8, "start");
hm.append("line")
    .attr("x1", 520).attr("x2", 697).attr("y1", 642).attr("y2", 642)
    .attr("stroke", "#000").attr("stroke-width", 2.6);
hm.append("path").attr("d", "M711,642L696,633.5V650.5Z").attr("fill", "#000");

// colour key
var keyX = d3.scaleLinear().domain([-3, 3]).range([881, 1099]);
var keySteps = d3.range(-3, 3, 6 / 72);
hm.append("g").selectAll("rect").data(keySteps).enter().append("rect")
    .attr("x", function(d) { return keyX(d); })
    .attr("y", 636)
    .attr("width", (keyX(3) - keyX(-3)) / 72 + 0.4)
    .attr("height", 24)
    .attr("fill", function(d) { return heatColor(d); });
label(hm, 993.6, 622.6, "Expression", 22.6, "middle");
label(hm, 882, 673, "-3", 21, "start");
label(hm, 1103.5, 673, "3", 21, "end");

// KEGG TABLE

var kegg = svg.append("g");
label(kegg, 1311, 642, "Representive KEGG terms", 23, "start");
label(kegg, 1696.5, 642, "Corrected P value", 23.1, "start");

var immuneTermY = [755, 794, 832, 870, 908, 947, 985.5];
var immunePY = [756, 794, 832, 871, 909.6, 948, 986];
var erythroTermY = [1064, 1128, 1192];
var erythroPY = [1066, 1133, 1200];

keggImmune.forEach(function(t, i) {
    label(kegg, 1311, immuneTermY[i], t, 23, "start");
    label(kegg, 1733.7, immunePY[i], pImmune[i], 23, "start");
});
keggErythro.forEach(function(t, i) {
    label(kegg, 1311, erythroTermY[i], t, 23, "start");
    label(kegg, 1733.7, erythroPY[i], pErythro[i], 23, "start");
});

[
    { text: "Immune related pathway", y0: 739, y1: 1002.6 },
    { text: "Erythrocyte related", y0: 1034.5, y1: 1229.6 }
].forEach(function(b) {
    kegg.append("rect")
        .attr("x", 1263).attr("y", b.y0)
        .attr("width", 36).attr("height", b.y1 - b.y0)
        .attr("fill", groupColors[0]);
    label(kegg, 0, 0, b.text, 23.4, "middle")
        .attr("transform", "translate(1281," + ((b.y0 + b.y1) / 2) + ") rotate(-90)");
});
</script>
</body>
</html>
